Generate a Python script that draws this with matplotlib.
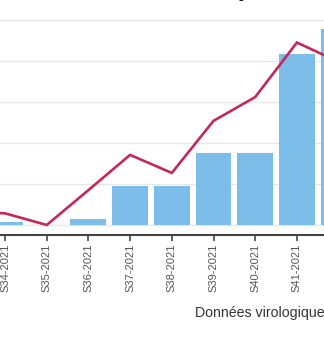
import numpy as np
import matplotlib.pyplot as plt

# --------------------------------------
# Data (grid step = 1 unit)
weeks = ['S33-2021', 'S34-2021', 'S35-2021', 'S36-2021', 'S37-2021',
         'S38-2021', 'S39-2021', 'S40-2021', 'S41-2021', 'S42-2021']
bar_values = [0.05, 0.07, 0.0, 0.15, 0.95, 0.95, 1.76, 1.76, 4.18, 4.78]
line_values = [0.32, 0.285, 0.0, 0.85, 1.71, 1.27, 2.54, 3.12, 4.45, 3.98]

title = 'Nombre de cas, taux de tests en région'
xlabel = 'Données virologiques'

bar_color = '#7dbde9'
line_color = '#c2285f'

plt.rcParams['font.family'] = ['Liberation Sans', 'DejaVu Sans']

W, H = 324, 337
fig = plt.figure(figsize=(W / 100, H / 100), dpi=100)
# axes: full width, bottom spine at 235 px from top, top at 10 px
ax = fig.add_axes([0, (H - 235) / H, 1, (235 - 10) / H])

x = np.arange(len(weeks))
ax.bar(x, bar_values, width=0.86, color=bar_color, zorder=2)
ax.plot(x, line_values, color=line_color, lw=1.9, solid_joinstyle='miter', zorder=3)

ax.set_xticks(x)
ax.set_xticklabels(weeks, rotation=90, fontsize=8, color='#555555')
ax.set_yticks([0, 1, 2, 3, 4, 5])

px = 41.7  # pixels per category
ax.set_xlim(1 - 5 / px, 1 - 5 / px + W / px)
ax.set_ylim(-10 / 41, 215 / 41)

ax.tick_params(axis='y', left=False, labelleft=False)
ax.tick_params(axis='x', direction='out', length=4, width=1.2, color='#444444', pad=2)
ax.grid(axis='y', color='#e8e8e8', lw=1, zorder=0)

for s in ['top', 'left', 'right']:
    ax.spines[s].set_visible(False)
ax.spines['bottom'].set_color('#444444')
ax.spines['bottom'].set_linewidth(1.5)

fig.text(195 / W, (H - 317) / H, xlabel, fontsize=10.2, color='#333333',
         ha='left', va='baseline')
# title sits above the visible area, only descenders show
fig.text(42 / W, 1.0 + 1.5 / H, title, fontsize=8.6, fontweight='bold', color='black',
         ha='left', va='baseline')

fig.savefig('out.png', dpi=100)
